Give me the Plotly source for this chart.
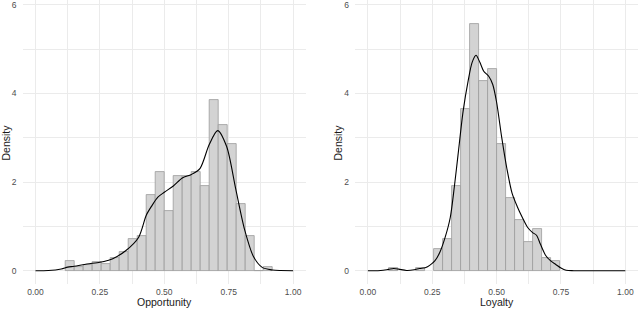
import plotly.graph_objects as go

# ---------------- data ----------------
bin_width = 0.0349

opp_bin_centers = [0.1358, 0.1707, 0.2056, 0.2405, 0.2754, 0.3103, 0.3452, 0.3801,
                   0.4150, 0.4499, 0.4848, 0.5197, 0.5546, 0.5895, 0.6244, 0.6593,
                   0.6942, 0.7291, 0.7640, 0.7989, 0.8338, 0.8687, 0.9036]
opp_hist = [0.21, 0.08, 0.13, 0.20, 0.14, 0.28, 0.42, 0.71,
            0.79, 1.71, 2.22, 1.35, 2.14, 2.14, 2.22, 1.92,
            3.86, 3.28, 2.85, 1.50, 0.79, 0.0, 0.08]

opp_dens_x = [0.00, 0.05, 0.10, 0.125, 0.15, 0.20, 0.25, 0.28, 0.30, 0.35, 0.40, 0.43,
              0.45, 0.475, 0.50, 0.535, 0.57, 0.605, 0.639, 0.674, 0.707, 0.742,
              0.777, 0.812, 0.846, 0.88, 0.92, 0.95, 1.00]
opp_dens_y = [0.0, 0.005, 0.04, 0.08, 0.10, 0.15, 0.19, 0.23, 0.27, 0.45, 0.75, 1.25,
              1.45, 1.66, 1.77, 1.91, 2.09, 2.17, 2.31, 2.84, 3.16, 2.80,
              1.85, 0.92, 0.32, 0.075, 0.015, 0.003, 0.0]

loy_bin_centers = [0.1009, 0.2056, 0.2754, 0.3103, 0.3452, 0.3801, 0.4150, 0.4499,
                   0.4848, 0.5197, 0.5546, 0.5895, 0.6244, 0.6593, 0.6942, 0.7291]
loy_hist = [0.05, 0.05, 0.50, 0.71, 1.92, 3.64, 5.56, 4.29,
            4.56, 2.85, 1.65, 1.14, 0.64, 0.93, 0.28, 0.22]

loy_dens_x = [0.00, 0.05, 0.08, 0.10, 0.12, 0.15, 0.18, 0.20, 0.215, 0.225, 0.24, 0.26,
              0.28, 0.30, 0.32, 0.336, 0.35, 0.37, 0.39, 0.405, 0.42, 0.435, 0.45,
              0.47, 0.485, 0.50, 0.52, 0.54, 0.56, 0.58, 0.60, 0.62, 0.64, 0.655,
              0.67, 0.69, 0.71, 0.73, 0.75, 0.77, 0.80, 0.90, 1.00]
loy_dens_y = [0.0, 0.003, 0.03, 0.05, 0.035, 0.005, 0.02, 0.05, 0.06, 0.07, 0.12, 0.22,
              0.42, 0.75, 1.20, 1.90, 2.60, 3.60, 4.30, 4.70, 4.86, 4.70, 4.50,
              4.38, 4.20, 3.80, 3.00, 2.30, 1.75, 1.45, 1.20, 0.98, 0.86, 0.80,
              0.60, 0.35, 0.22, 0.14, 0.06, 0.01, 0.0, 0.0, 0.0]

x_ticks = [0.0, 0.25, 0.5, 0.75, 1.0]
x_tick_labels = ["0.00", "0.25", "0.50", "0.75", "1.00"]
y_ticks = [0, 2, 4, 6]
y_tick_labels = ["0", "2", "4", "6"]

# ---------------- style ----------------
FONT = "Liberation Sans, Arial, Helvetica, sans-serif"
BAR_FILL = "#D3D3D3"
BAR_LINE = "#9A9A9A"
GRID = "#EBEBEB"
TICK_COL = "#4D4D4D"

fig = go.Figure()

fig.add_trace(go.Bar(x=opp_bin_centers, y=opp_hist, width=bin_width,
                     marker=dict(color=BAR_FILL, line=dict(color=BAR_LINE, width=0.8)),
                     xaxis="x", yaxis="y", showlegend=False, hoverinfo="skip"))
fig.add_trace(go.Scatter(x=opp_dens_x, y=opp_dens_y, mode="lines",
                         line=dict(color="black", width=1.1, shape="spline", smoothing=0.8),
                         xaxis="x", yaxis="y", showlegend=False, hoverinfo="skip"))

fig.add_trace(go.Bar(x=loy_bin_centers, y=loy_hist, width=bin_width,
                     marker=dict(color=BAR_FILL, line=dict(color=BAR_LINE, width=0.8)),
                     xaxis="x2", yaxis="y2", showlegend=False, hoverinfo="skip"))
fig.add_trace(go.Scatter(x=loy_dens_x, y=loy_dens_y, mode="lines",
                         line=dict(color="black", width=1.1, shape="spline", smoothing=0.8),
                         xaxis="x2", yaxis="y2", showlegend=False, hoverinfo="skip"))

W, H = 640, 309
MB = 25
PH = H - MB  # plot-area height


def xax(domain, anchor):
    return dict(domain=domain, anchor=anchor, range=[-0.05, 1.05],
                tickvals=x_ticks, ticktext=x_tick_labels,
                showgrid=True, gridcolor=GRID, gridwidth=1,
                minor=dict(dtick=0.125, tick0=0, showgrid=True, gridcolor=GRID, gridwidth=0.5),
                zeroline=False, showline=False, ticks="", ticklabelstandoff=1,
                ticklabeloverflow="allow",
                tickfont=dict(family=FONT, size=8.5, color=TICK_COL))


def yax(anchor):
    return dict(domain=[0, 1], anchor=anchor, range=[-0.3, 6.106],
                tickvals=y_ticks, ticktext=y_tick_labels,
                showgrid=True, gridcolor=GRID, gridwidth=1,
                minor=dict(dtick=1, tick0=0, showgrid=True, gridcolor=GRID, gridwidth=0.5),
                zeroline=False, showline=False, ticks="", ticklabelstandoff=5,
                ticklabeloverflow="allow",
                tickfont=dict(family=FONT, size=8.5, color=TICK_COL))


fig.update_layout(
    width=W, height=H,
    margin=dict(l=0, r=0, t=0, b=MB, pad=0),
    paper_bgcolor="white", plot_bgcolor="white",
    bargap=0, barmode="overlay",
    xaxis=xax([22.6 / W, 306 / W], "y"),
    yaxis=yax("x"),
    xaxis2=xax([355.0 / W, 638.2 / W], "y2"),
    yaxis2=yax("x2"),
    font=dict(family=FONT),
)

title_font = dict(family=FONT, size=10.5, color="#1A1A1A")
for text, px in [("Opportunity", 164), ("Loyalty", 496.7)]:
    fig.add_annotation(text=text, x=px / W, y=(PH - 302) / PH, xref="paper", yref="paper",
                       yanchor="middle", xanchor="center", showarrow=False, font=title_font)

for xp in [5.5, 337.5]:
    fig.add_annotation(text="Density", x=xp / W, y=(PH - 143) / PH, xref="paper", yref="paper",
                       textangle=-90, xanchor="center", yanchor="middle", showarrow=False,
                       font=title_font)

fig.write_html("out.html", config={"displayModeBar": False},
               post_script="document.body.style.margin='0';")
